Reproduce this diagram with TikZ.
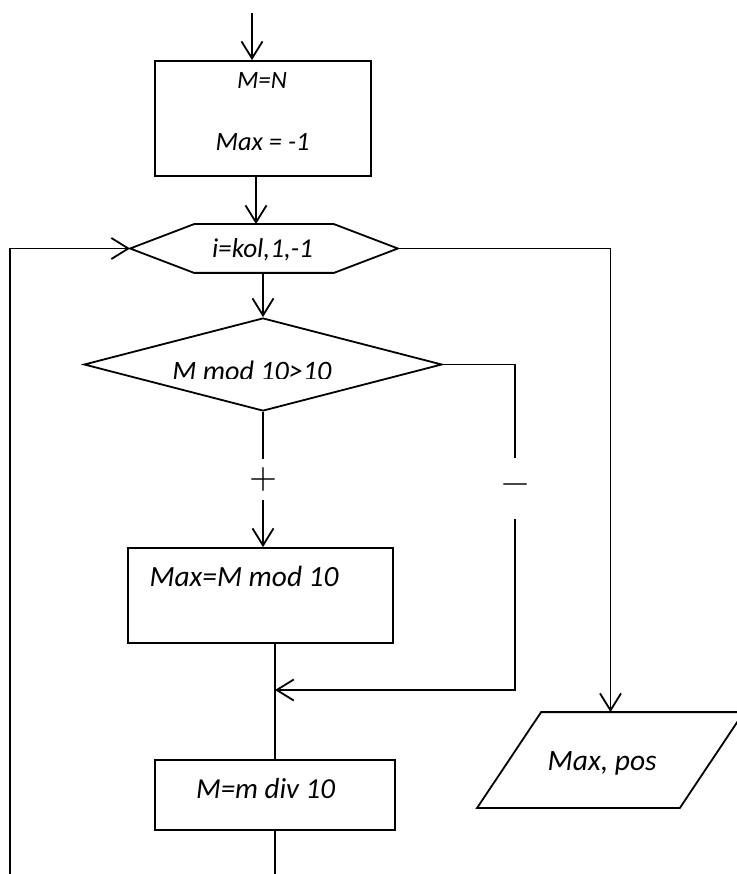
\documentclass[tikz,border=0pt]{standalone}
\usepackage{graphicx}
\usepackage{fontspec}
\setmainfont{Carlito}
\newfontfamily\lmfont{lmroman10-regular.otf}
\usetikzlibrary{arrows.meta,shapes.geometric}
% italic label set to a given overall width
\newcommand{\fitlabel}[2]{\resizebox{#1pt}{!}{\itshape #2}}
\begin{document}
\begin{tikzpicture}[x=1pt,y=-1pt,
  line width=1.8pt,
  >={Straight Barb[length=17pt,width=21pt]},
  box/.style={draw, rectangle, inner sep=0pt},
  frame/.style={rectangle, inner sep=0pt},
  txt/.style={font=\fontsize{27}{32}\selectfont, inner sep=0pt, anchor=base},
  sign/.style={fill=white, inner sep=0pt, minimum width=8pt, font=\lmfont\fontsize{36}{40}\selectfont},
]
\fill[white] (0,0) rectangle (736,874);
\useasboundingbox (0,0) rectangle (736,874);

% initial assignments
\coordinate (start) at (252,13);
\node[box, minimum width=216pt, minimum height=115pt] (init) at (263,118.5) {};
\node[txt] (t1) at (262,88.3) {\fitlabel{50}{M=N}};
\node[txt] (t2) at (262.5,151) {\fitlabel{94}{Max = -1}};

% loop header (hexagon)
\node[frame, minimum width=266pt, minimum height=47pt] (loop) at (264,248.5) {};
\draw (loop.west) -- ([xshift=64pt]loop.north west) -- ([xshift=-64pt]loop.north east)
  -- (loop.east) -- ([xshift=-64pt]loop.south east) -- ([xshift=64pt]loop.south west) -- cycle;
\node[txt] (t3) at (262.5,258) {\fitlabel{101}{i=kol,1,-1}};

% condition
\node[draw, diamond, minimum width=358pt, minimum height=93pt, inner sep=0pt] (cond) at (263,364.5) {};
\begin{scope}
  \clip (0,0) rectangle (736,378);
  \node[txt] (t4) at (252,380) {\fitlabel{159}{M mod 10>10}};
\end{scope}

% actions
\node[box, minimum width=265pt, minimum height=95pt] (maxbox) at (260.5,595.5) {};
\node[txt] (t5) at (244,586.7) {\fitlabel{189}{Max=M mod 10}};
\node[box, minimum width=240pt, minimum height=70pt] (div) at (275,795) {};
\node[txt] (t6) at (265.5,798.3) {\fitlabel{139}{M=m div 10}};

% output (parallelogram)
\node[frame, minimum width=201pt, minimum height=94pt] (out) at (610.5,760) {};
\draw ([xshift=-32pt]out.south west) -- ([xshift=-32pt]out.south east)
  -- ([xshift=32pt]out.north east) -- ([xshift=32pt]out.north west) -- cycle;
\node[txt] (t7) at (602.2,770) {\fitlabel{109}{Max, pos}};

% connectors
\coordinate (merge) at (275,690);
\coordinate (rbend) at (515,690);
\coordinate (lbend) at (10,890);

\draw[->] (start) -- (start |- init.north);
\draw[->] ([xshift=-7pt]init.south) -- ([xshift=-7pt]init.south |- loop.north);
\draw[->] (cond.north |- loop.south) -- (cond.north);
\draw[->] (cond.south) -- node[sign, minimum height=41pt] (plus) {+} (cond.south |- maxbox.north);
\draw (maxbox.south -| div.north) -- (div.north);
\draw[->] (cond.east) -| node[sign, minimum height=61pt, pos=0.69] (minus) {−} (rbend) -- (merge);
\draw[->] (loop.east) -| (out.north);
\draw[->] (div.south) |- (lbend) |- (loop.west);
\end{tikzpicture}
\end{document}
